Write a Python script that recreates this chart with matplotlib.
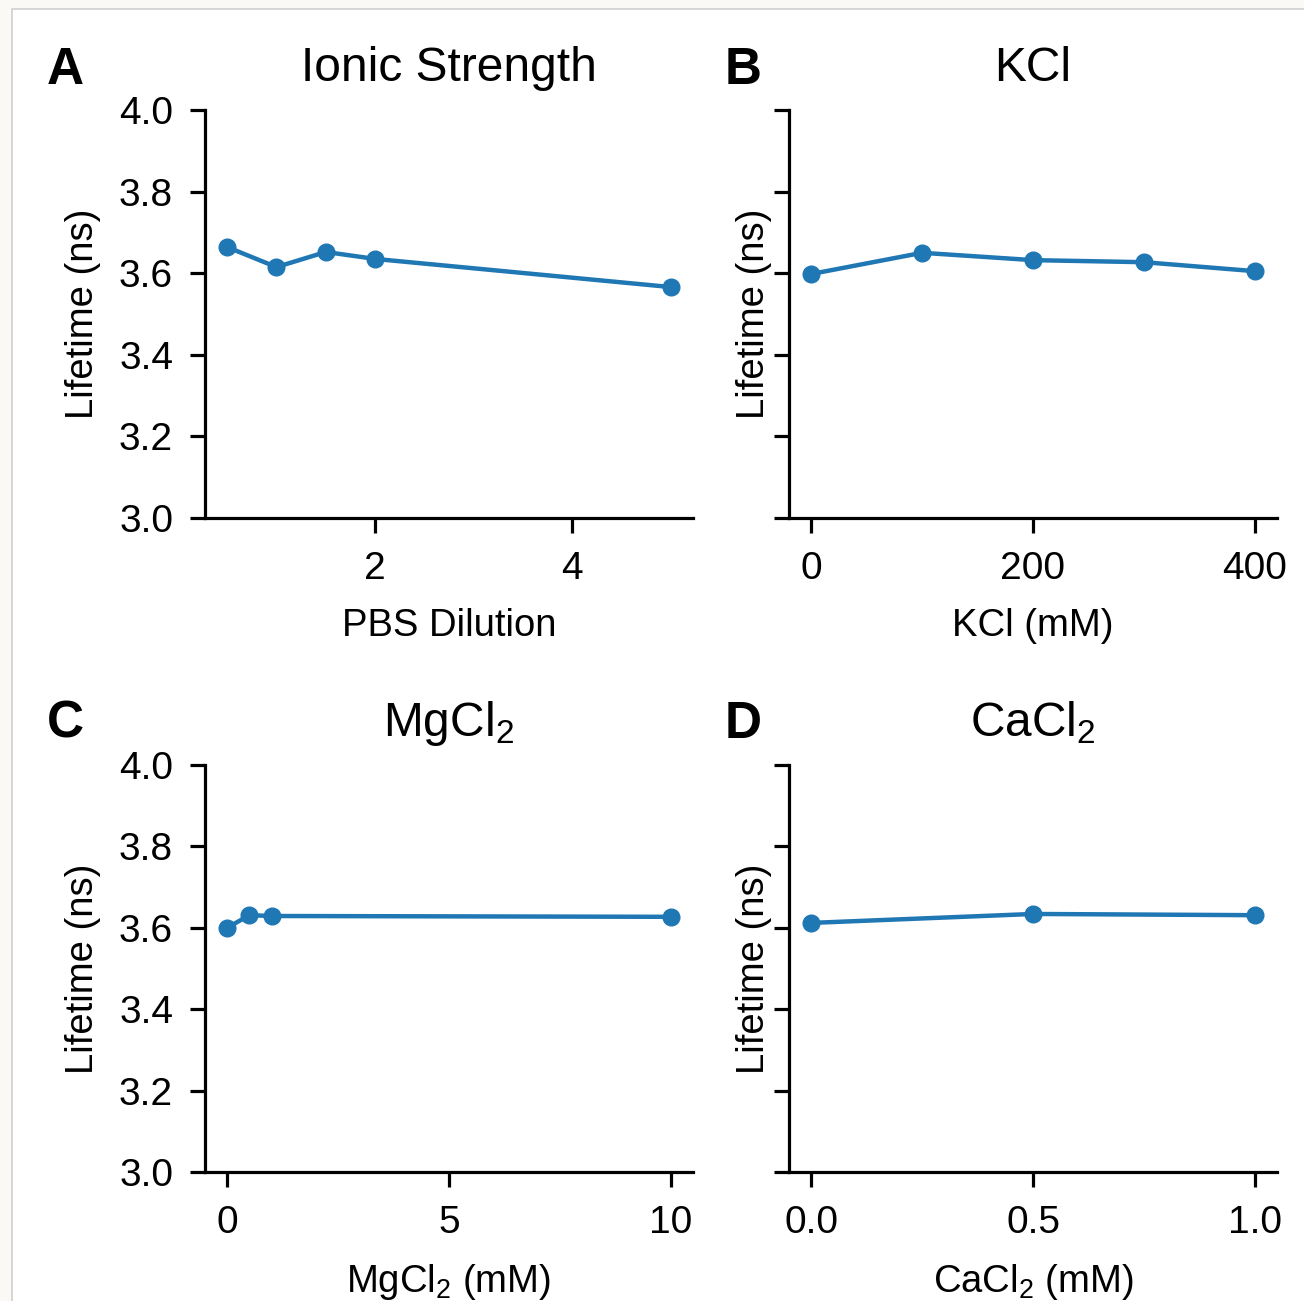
import matplotlib
matplotlib.use("Agg")
import matplotlib.pyplot as plt
from matplotlib.patches import Rectangle

plt.rcParams['font.family'] = ['Liberation Sans', 'DejaVu Sans']
plt.rcParams['mathtext.fontset'] = 'custom'
plt.rcParams['mathtext.rm'] = 'Liberation Sans'
plt.rcParams['mathtext.it'] = 'Liberation Sans:italic'
plt.rcParams['mathtext.bf'] = 'Liberation Sans:bold'
plt.rcParams['mathtext.default'] = 'regular'

# Data
pbs_x = [0.5, 1.0, 1.5, 2.0, 5.0]
pbs_y = [3.664, 3.615, 3.652, 3.635, 3.566]
kcl_x = [0, 100, 200, 300, 400]
kcl_y = [3.598, 3.650, 3.632, 3.627, 3.605]
mg_x = [0, 0.5, 1, 10]
mg_y = [3.600, 3.631, 3.629, 3.627]
ca_x = [0.0, 0.5, 1.0]
ca_y = [3.612, 3.634, 3.631]

titles = ['Ionic Strength', 'KCl', r'MgCl$_2$', r'CaCl$_2$']
xlabels = ['PBS Dilution', 'KCl (mM)', r'MgCl$_2$ (mM)', r'CaCl$_2$ (mM)']
letters = ['A', 'B', 'C', 'D']
xticks = [[2, 4], [0, 200, 400], [0, 5, 10], [0.0, 0.5, 1.0]]
xticklabels = [['2', '4'], ['0', '200', '400'], ['0', '5', '10'], ['0.0', '0.5', '1.0']]
yticks = [3.0, 3.2, 3.4, 3.6, 3.8, 4.0]
ytick_labels = ['3.0', '3.2', '3.4', '3.6', '3.8', '4.0']
series = [(pbs_x, pbs_y), (kcl_x, kcl_y), (mg_x, mg_y), (ca_x, ca_y)]

W, H = 1304, 1301
fig = plt.figure(figsize=(W / 100, H / 100), dpi=100, facecolor='#faf9f5')
fig.patches.append(Rectangle((12 / W, -0.01), 1.0, 1 - 9 / H + 0.01, transform=fig.transFigure,
                             facecolor='white', edgecolor='#d0d0d0', linewidth=1.2, zorder=-10))

boxes = [(205, 110, 693, 518), (789, 110, 1277, 518), (205, 765, 693, 1172), (789, 765, 1277, 1172)]
letter_pos = [(47, 84), (725, 84), (47, 738), (725, 738)]

for i, (l, t, r, b) in enumerate(boxes):
    ax = fig.add_axes([l / W, 1 - b / H, (r - l) / W, (b - t) / H])
    ax.set_facecolor('none')
    x, y = series[i]
    ax.plot(x, y, '-o', color='#1f77b4', lw=3.2, ms=12)
    ax.set_ylim(3.0, 4.0)
    ax.set_yticks(yticks)
    if i % 2 == 0:
        ax.set_yticklabels(ytick_labels)
    else:
        ax.set_yticklabels([])
    ax.set_xticks(xticks[i])
    ax.set_xticklabels(xticklabels[i])
    for s in ['top', 'right']:
        ax.spines[s].set_visible(False)
    for s in ['left', 'bottom']:
        ax.spines[s].set_linewidth(2.3)
    ax.tick_params(width=2.3, length=11, labelsize=28)
    ax.tick_params(axis='x', pad=13)
    ax.tick_params(axis='y', pad=12)
    ax.set_title(titles[i], fontsize=34.5, pad=21)
    ax.set_xlabel(xlabels[i], fontsize=27.5)
    ax.xaxis.set_label_coords(0.5, -0.22)
    ax.set_ylabel('Lifetime (ns)', fontsize=27.5)
    if i % 2 == 0:
        ax.yaxis.set_label_coords(-0.213, 0.5)
    else:
        ax.yaxis.set_label_coords(-0.035, 0.5)
    lx, ly = letter_pos[i]
    fig.text(lx / W, 1 - ly / H, letters[i], fontsize=37, fontweight='bold', ha='left', va='baseline')

fig.savefig('out.png', dpi=100, facecolor=fig.get_facecolor())
